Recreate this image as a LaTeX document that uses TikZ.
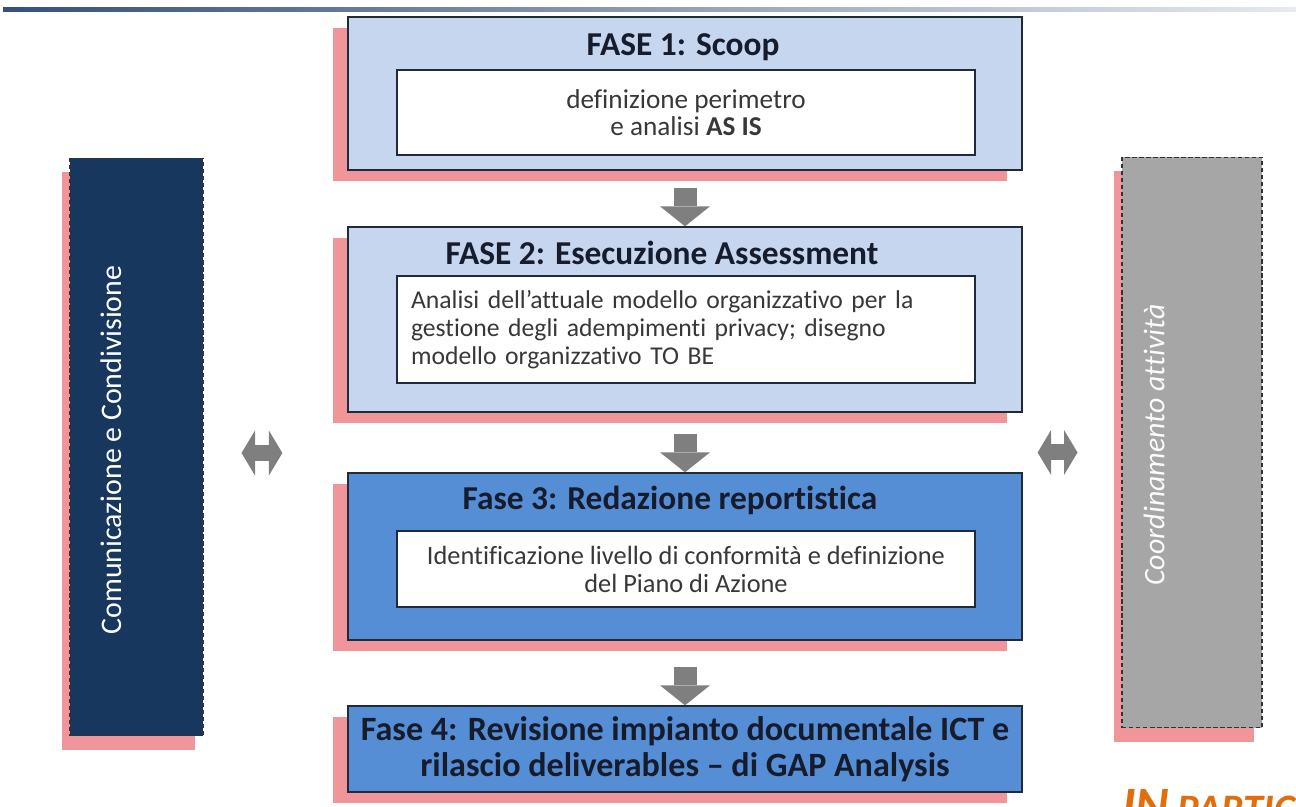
\documentclass[tikz,border=0pt]{standalone}
\usepackage{fontspec}
\setmainfont{Carlito}[Ligatures=NoCommon]
\usepackage{xcolor}
\usepackage{tikz}
\usetikzlibrary{arrows.meta,positioning,shadows,calc}

\definecolor{faselight}{HTML}{C6D6EE}
\definecolor{fasedark}{HTML}{558ED5}
\definecolor{boxline}{HTML}{1F2A3A}
\definecolor{shadowpink}{HTML}{F0969B}
\definecolor{navybar}{HTML}{17375E}
\definecolor{graybar}{HTML}{A6A6A6}
\definecolor{arrowgray}{HTML}{7F7F7F}
\definecolor{titletext}{HTML}{161C2C}
\definecolor{bodytext}{HTML}{383838}
\definecolor{topblue}{HTML}{34507F}
\definecolor{orangetext}{HTML}{E46C0A}

\begin{document}
\begin{tikzpicture}[x=0.02cm, y=-0.02cm,
    fase/.style={draw=boxline, line width=0.8pt, rectangle, inner sep=0pt, minimum width=13.48cm,
                 drop shadow={shadow xshift=-0.3cm, shadow yshift=-0.22cm, fill=shadowpink, opacity=1}},
    inner/.style={draw=boxline, line width=0.8pt, rectangle, fill=white, minimum width=11.56cm,
                  align=center, text=bodytext},
    title/.style={text=titletext, font=\fontsize{19}{21}\selectfont\bfseries, inner sep=0pt},
    sidebar/.style={draw=black!80, line width=0.6pt, dash pattern=on 2.5pt off 1.5pt, rectangle, inner sep=0pt,
                    drop shadow={shadow xshift=-0.16cm, shadow yshift=-0.28cm, fill=shadowpink, opacity=1}},
    sidetext/.style={rotate=90, text=white, font=\fontsize{17}{19}\selectfont},
    blockarrow/.style={-{Triangle[length=0.4cm, width=1.0cm, line width=0pt]}, line width=0.46cm, draw=arrowgray},
    dblarrow/.style={{Triangle[length=0.27cm, width=0.9cm, line width=0pt]}-{Triangle[length=0.27cm, width=0.9cm, line width=0pt]},
                     line width=0.32cm, draw=arrowgray}
]
    \useasboundingbox (0,0) rectangle (1296,807);

    % top rule
    \shade[left color=topblue, right color=topblue!12] (3,8) rectangle (1296,12);

    % Central column: phases
    \node[fase, fill=faselight, minimum height=3.06cm] (fase1) at (685,93.5) {};
    \node[title] (fase1title) at (683,47) {FASE 1: Scoop};
    \node[inner, minimum height=1.70cm, font=\fontsize{15.5}{15.5}\selectfont] (fase1body) at (686,112.5)
        {definizione perimetro\\e analisi \textbf{AS IS}};

    \node[fase, fill=faselight, minimum height=3.70cm] (fase2) at (685,319.5) {};
    \node[title] (fase2title) at (662,253) {FASE 2: Esecuzione Assessment};
    \node[inner, minimum height=2.14cm, align=left, text width=11.0cm, inner sep=0.28cm,
          font=\fontsize{14.6}{15.8}\selectfont] (fase2body) at (686,329.5)
        {Analisi dell’attuale modello organizzativo per la\\gestione degli adempimenti privacy; disegno\\modello organizzativo TO BE};

    \node[fase, fill=fasedark, minimum height=3.34cm] (fase3) at (685,556.5) {};
    \node[title] (fase3title) at (670,500) {Fase 3: Redazione reportistica};
    \node[inner, minimum height=1.52cm, font=\fontsize{15}{15.9}\selectfont] (fase3body) at (686,569)
        {Identificazione livello di conformità e definizione\\del Piano di Azione};

    \node[fase, fill=fasedark, minimum height=1.72cm, align=center, text=titletext,
          font=\fontsize{19.4}{20.5}\selectfont\bfseries] (fase4) at (685,749)
        {Fase 4: Revisione impianto documentale ICT e\\rilascio deliverables -- di GAP Analysis};

    % Side bars
    \node[sidebar, fill=navybar, minimum width=2.66cm, minimum height=11.56cm] (comm) at (136.5,447) {};
    \node[sidetext] (commtext) at (111,450) {Comunicazione e Condivisione};

    \node[sidebar, fill=graybar, minimum width=2.80cm, minimum height=11.42cm] (coord) at (1192,442.5) {};
    \node[sidetext, font=\fontsize{17}{19}\selectfont\itshape, text=white!95!graybar] (coordtext) at (1154,445) {Coordinamento attività};

    % Arrows between phases
    \draw[blockarrow, shorten <=0.34cm] (fase1) -- (fase2);
    \draw[blockarrow, shorten <=0.42cm] (fase2) -- (fase3);
    \draw[blockarrow, shorten <=0.52cm] (fase3) -- (fase4);

    % Side connections
    \draw[dblarrow, shorten <=0.76cm, shorten >=1.30cm] ($(comm.east)+(0,6)$) -- ($(comm.east -| fase2.west)+(0,6)$);
    \draw[dblarrow, shorten <=0.30cm, shorten >=0.88cm] ($(coord.west -| fase2.east)+(0,10)$) -- ($(coord.west)+(0,10)$);

    % cut-off heading, bottom right
    \node[anchor=base west, inner sep=0pt, text=orangetext, font=\bfseries\itshape] (partic) at (1122,822)
        {\fontsize{29}{29}\selectfont IN\,\fontsize{23}{23}\selectfont PARTIC};
\end{tikzpicture}
\end{document}
